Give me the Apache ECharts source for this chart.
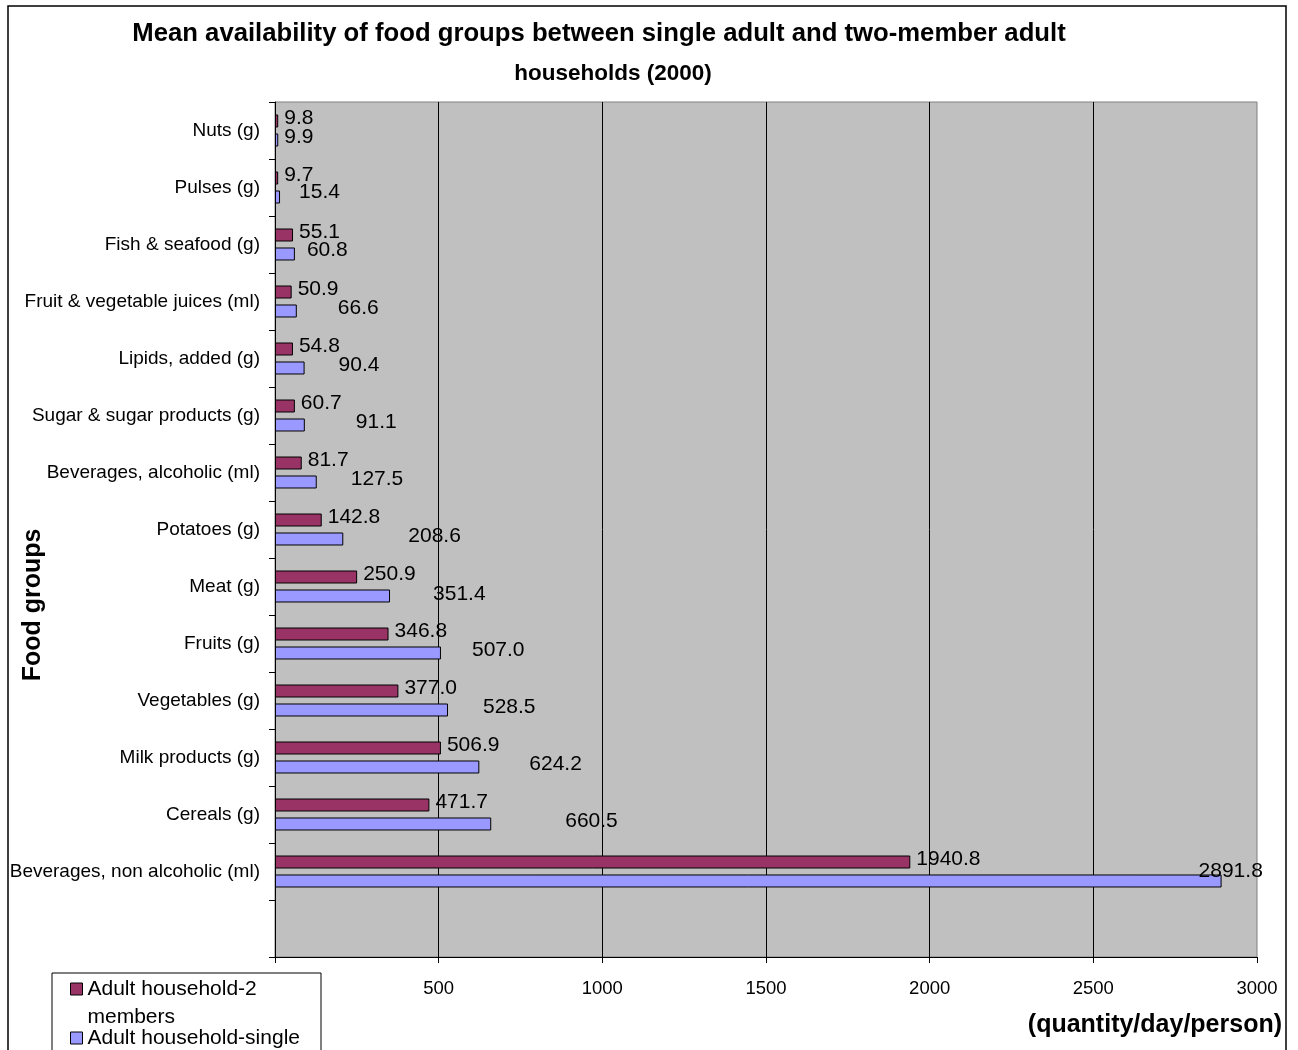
<!DOCTYPE html>
<html>
<head>
<meta charset="utf-8">
<script src="https://cdn.jsdelivr.net/npm/echarts@6/dist/echarts.min.js"></script>
<style>
  html, body { margin: 0; padding: 0; background: #ffffff; }
  #chart { width: 1298px; height: 1050px; }
</style>
</head>
<body>
<div id="chart"></div>
<script>
// Food groups, listed top to bottom; the trailing blank keeps an empty band under the last group
const foodGroups = [
  'Nuts (g)', 'Pulses (g)', 'Fish & seafood (g)', 'Fruit & vegetable juices (ml)',
  'Lipids, added (g)', 'Sugar & sugar products (g)', 'Beverages, alcoholic (ml)',
  'Potatoes (g)', 'Meat (g)', 'Fruits (g)', 'Vegetables (g)', 'Milk products (g)',
  'Cereals (g)', 'Beverages, non alcoholic (ml)', ''
];
// Mean availability, quantity/day/person
const twoMembers = [9.8, 9.7, 55.1, 50.9, 54.8, 60.7, 81.7, 142.8, 250.9, 346.8, 377.0, 506.9, 471.7, 1940.8, null];
const single     = [9.9, 15.4, 60.8, 66.6, 90.4, 91.1, 127.5, 208.6, 351.4, 507.0, 528.5, 624.2, 660.5, 2891.8, null];
const xTicks = [0, 500, 1000, 1500, 2000, 2500, 3000];

const seriesNames = ['Adult household-2 members', 'Adult household-single'];

// Hand-placed label nudges (px) for the single-adult labels
const singleLabelNudge = [
  [0, 0], [13, -2], [6, -1], [35, 0], [28, 0], [45, 0], [28, 0],
  [59, 0], [37, 1], [25, 0], [29, 0], [44, 0], [68, 0], [-29, -7]
];

const FONT = 'Liberation Sans, Arial, sans-serif';
const fmt = p => (p.value == null ? '' : Number(p.value).toFixed(1));
const valueLabel = {
  show: true, position: 'right', distance: 6,
  fontFamily: FONT, fontSize: 21, color: '#000',
  offset: [0, -3], formatter: fmt
};

const chart = echarts.init(document.getElementById('chart'), null, { renderer: 'canvas' });

chart.setOption({
  backgroundColor: '#ffffff',
  animation: false,
  title: [
    {
      text: 'Mean availability of food groups between single adult and two-member adult',
      left: 599, top: 14, textAlign: 'center', padding: 0,
      textStyle: { fontFamily: FONT, fontWeight: 'bold', fontSize: 25.7, lineHeight: 39, color: '#000' }
    },
    {
      text: 'households (2000)',
      left: 613, top: 57, textAlign: 'center', padding: 0,
      textStyle: { fontFamily: FONT, fontWeight: 'bold', fontSize: 22.5, lineHeight: 34, color: '#000' }
    }
  ],
  grid: {
    left: 275, right: 41, top: 102, bottom: 93,
    show: true, backgroundColor: '#C0C0C0', borderColor: '#808080', borderWidth: 1
  },
  xAxis: {
    type: 'value', min: xTicks[0], max: xTicks[xTicks.length - 1],
    interval: xTicks[1] - xTicks[0],
    axisLine: { show: true, lineStyle: { color: '#000', width: 1 } },
    axisTick: { show: true, length: 6, lineStyle: { color: '#000' } },
    axisLabel: {
      fontFamily: FONT, fontSize: 18.5, color: '#000', margin: 22,
      formatter: v => String(v)
    },
    splitLine: { show: true, showMaxLine: false, lineStyle: { color: '#000', width: 1 } }
  },
  yAxis: {
    type: 'category', inverse: true, data: foodGroups,
    axisLine: { show: true, lineStyle: { color: '#000', width: 1 } },
    axisTick: { show: true, length: 6, lineStyle: { color: '#000' } },
    axisLabel: { fontFamily: FONT, fontSize: 19, color: '#000', margin: 15 },
    splitLine: { show: false }
  },
  legend: [
    {
      // leading blank line keeps the swatch level with the first text line
      orient: 'vertical', left: 70, top: 947, z: 10, padding: 0,
      itemWidth: 12, itemHeight: 12, icon: 'rect',
      data: [seriesNames[0]],
      formatter: () => '\nAdult household-2\nmembers',
      itemStyle: { borderColor: '#000', borderWidth: 1 },
      textStyle: { fontFamily: FONT, fontSize: 21, color: '#000', lineHeight: 28 }
    },
    {
      orient: 'vertical', left: 70, top: 1027, z: 10, padding: 0,
      itemWidth: 12, itemHeight: 12, icon: 'rect',
      data: [seriesNames[1]],
      itemStyle: { borderColor: '#000', borderWidth: 1 },
      textStyle: { fontFamily: FONT, fontSize: 21, color: '#000', lineHeight: 22 }
    }
  ],
  graphic: [
    {
      type: 'rect', z: 1, silent: true,
      shape: { x: 8, y: 6, width: 1278, height: 1100 },
      style: { fill: 'none', stroke: '#000', lineWidth: 1.5 }
    },
    {
      type: 'rect', z: 8, silent: true,
      shape: { x: 52, y: 973, width: 269, height: 120 },
      style: { fill: '#fff', stroke: '#000', lineWidth: 1 }
    },
    {
      type: 'text', z: 8, silent: true,
      x: 33, y: 605, rotation: Math.PI / 2,
      style: {
        text: 'Food groups', x: 0, y: 0,
        font: 'bold 25px "Liberation Sans", Arial, sans-serif', fill: '#000',
        align: 'center', verticalAlign: 'middle'
      }
    },
    {
      type: 'text', z: 8, silent: true,
      x: 1282, y: 1025,
      style: {
        text: '(quantity/day/person)', x: 0, y: 0,
        font: 'bold 25px "Liberation Sans", Arial, sans-serif', fill: '#000',
        align: 'right', verticalAlign: 'middle'
      }
    }
  ],
  series: [
    {
      name: seriesNames[0], type: 'bar',
      barWidth: 13, barGap: '46%',
      itemStyle: { color: '#993366', borderColor: '#000', borderWidth: 1 },
      label: valueLabel,
      data: twoMembers
    },
    {
      name: seriesNames[1], type: 'bar',
      barWidth: 13, barGap: '46%',
      itemStyle: { color: '#9999FF', borderColor: '#000', borderWidth: 1 },
      label: valueLabel,
      data: single.map((v, i) => ({
        value: v,
        label: singleLabelNudge[i]
          ? { offset: [singleLabelNudge[i][0], -3 + singleLabelNudge[i][1]] }
          : undefined
      }))
    }
  ]
});
</script>
</body>
</html>
